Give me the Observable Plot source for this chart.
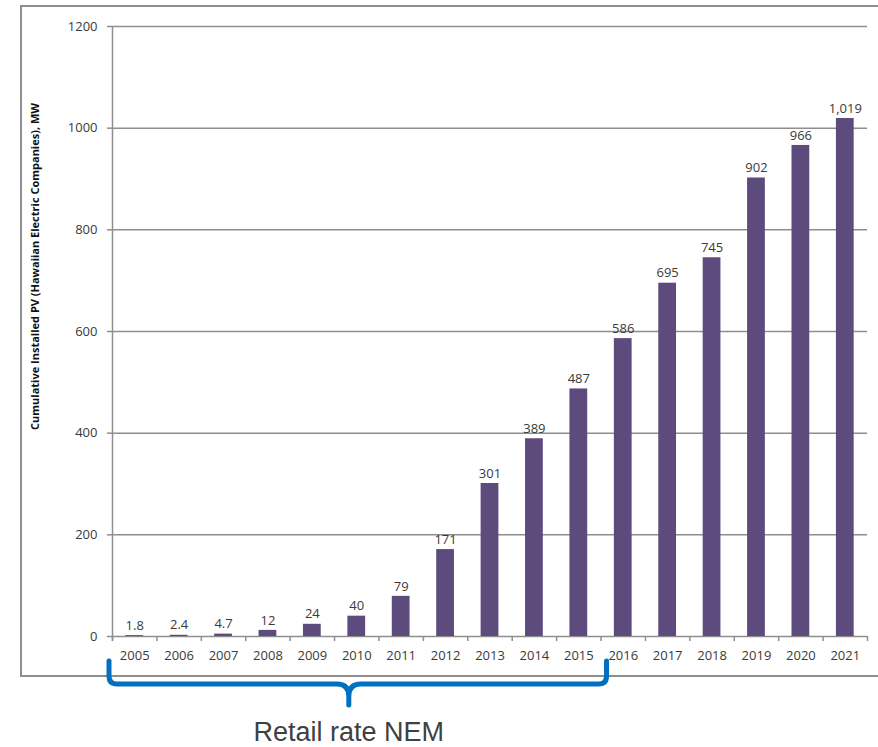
<!DOCTYPE html>
<html>
<head>
<meta charset="utf-8">
<script src="https://cdn.jsdelivr.net/npm/d3@7"></script>
<script src="https://cdn.jsdelivr.net/npm/@observablehq/plot@0.6"></script>
<style>
  body { margin: 0; background: #fff; }
  #chart svg { display: block; }
</style>
</head>
<body>
<div id="chart"></div>
<script>
// Cumulative installed PV on the Hawaiian Electric Companies' grids, MW
const years = ["2005", "2006", "2007", "2008", "2009", "2010", "2011", "2012", "2013",
               "2014", "2015", "2016", "2017", "2018", "2019", "2020", "2021"];
const installedMW = [1.8, 2.4, 4.7, 12, 24, 40, 79, 171, 301, 389, 487, 586, 695, 745, 902, 966, 1019];
const valueLabels = ["1.8", "2.4", "4.7", "12", "24", "40", "79", "171", "301", "389", "487",
                     "586", "695", "745", "902", "966", "1,019"];
const yTickValues = [0, 200, 400, 600, 800, 1000, 1200];
const gridValues = [200, 400, 600, 800, 1000, 1200];
const yTitle = "Cumulative Installed PV (Hawaiian Electric Companies), MW";
const nemYears = ["2005", "2015"];           // retail-rate net metering period
const nemLabel = "Retail rate NEM";

const rows = years.map((year, i) => ({year, mw: installedMW[i], label: valueLabels[i]}));

const W = 878, H = 747;
const mL = 112, mR = 11, mT = 26, mB = 111;
const step = (W - mL - mR) / years.length;
const gray = "#8e8e8e";
const textColor = "#3a3a3a";
const barColor = "#5e4b7e";

const plot = Plot.plot({
  width: W,
  height: H,
  marginLeft: mL,
  marginRight: mR,
  marginTop: mT,
  marginBottom: mB,
  style: {fontFamily: "'Open Sans', sans-serif", fontSize: "13px", color: textColor, background: "#fff", overflow: "visible"},
  x: {domain: years, paddingInner: 0.6, paddingOuter: 0.3, round: false, axis: null},
  y: {domain: [0, 1200], axis: null},
  marks: [
    // horizontal gridlines
    Plot.ruleY(gridValues, {stroke: gray, strokeWidth: 1.5}),
    // category axis line
    Plot.ruleY([0], {stroke: gray, strokeWidth: 1.5}),
    // value axis line (left edge of the first band)
    Plot.ruleX([years[0]], {dx: -step / 2, y1: -10, y2: 1200, stroke: gray, strokeWidth: 1.5}),
    // tick marks on category boundaries
    Plot.ruleX(years, {dx: -step / 2, y1: 0, y2: -10, stroke: gray, strokeWidth: 1.5}),
    Plot.ruleX([years[years.length - 1]], {dx: step / 2, y1: 0, y2: -10, stroke: gray, strokeWidth: 1.5}),
    // bars
    Plot.barY(rows, {x: "year", y: "mw", fill: barColor}),
    // value labels
    Plot.text(rows, {x: "year", y: "mw", text: "label", dy: -10, fill: textColor, fontSize: 13}),
    // axes
    Plot.axisY({ticks: yTickValues, tickSize: 5, tickPadding: 10, stroke: gray, strokeWidth: 1.5,
                fill: textColor, fontSize: 13, tickFormat: d => String(d), label: null}),
    Plot.axisX({tickSize: 0, tickPadding: 14, fill: textColor, fontSize: 13, label: null}),
    // value-axis title
    Plot.text([yTitle], {frameAnchor: "left", textAnchor: "middle", dx: -77, dy: -65, rotate: -90,
                         fontWeight: "bold", fontSize: 11, fill: "#111"})
  ]
});

document.getElementById("chart").appendChild(plot);

// outer chart border and the net-metering bracket
const svg = d3.select(plot);
svg.insert("rect", ":first-child")
  .attr("x", 21).attr("y", 6).attr("width", 900).attr("height", 670)
  .attr("fill", "none").attr("stroke", gray).attr("stroke-width", 2);

const xs = plot.scale("x");
const gap = xs.step - xs.bandwidth;
const left = xs.apply(nemYears[0]) - gap / 2 - 3;
const right = xs.apply(nemYears[1]) + xs.bandwidth + gap / 2 + 6;
const mid = left + (right - left) * 0.482;
const yTop = 661, yBar = 684, yTip = 705, r = 8;

svg.append("path")
  .attr("d", `M${left},${yTop} V${yBar - r} Q${left},${yBar} ${left + r},${yBar} H${mid - 12}
              Q${mid},${yBar} ${mid},${yBar + 12} V${yTip}
              M${mid},${yBar + 12} Q${mid},${yBar} ${mid + 12},${yBar} H${right - r}
              Q${right},${yBar} ${right},${yBar - r} V${yTop}`)
  .attr("fill", "none").attr("stroke", "#0070c0").attr("stroke-width", 5)
  .attr("stroke-linecap", "round").attr("stroke-linejoin", "round");

svg.append("text")
  .attr("x", mid).attr("y", 741)
  .attr("text-anchor", "middle")
  .attr("font-family", "'Liberation Sans', Arial, sans-serif")
  .attr("font-size", 27)
  .attr("fill", "#404040")
  .text(nemLabel);
</script>
</body>
</html>
